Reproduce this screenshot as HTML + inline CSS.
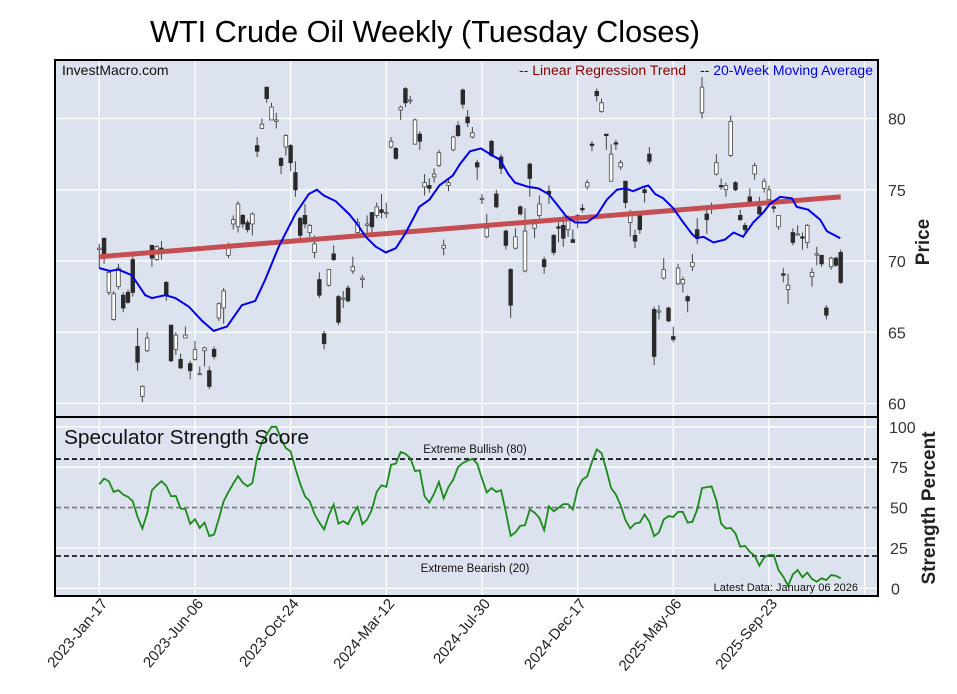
<!DOCTYPE html>
<html><head><meta charset="utf-8"><style>
body{margin:0;background:#fff;}
svg{display:block;font-family:"Liberation Sans",sans-serif;}
</style></head><body>
<svg id="chart" width="957" height="694" viewBox="0 0 957 694" xmlns="http://www.w3.org/2000/svg">
<text x="425" y="42" font-size="30.5" text-anchor="middle" fill="#000" textLength="550" lengthAdjust="spacingAndGlyphs">WTI Crude Oil Weekly (Tuesday Closes)</text>
<rect x="56" y="61" width="822" height="356" fill="#dde3ee"/>
<rect x="56" y="418" width="822" height="178" fill="#dde3ee"/>
<g id="grid"></g>
<g id="marks"></g>
<rect x="55" y="60" width="823" height="357" fill="none" stroke="#000" stroke-width="2"/>
<rect x="55" y="417" width="823" height="179" fill="none" stroke="#000" stroke-width="2"/>
<text x="62" y="75" font-size="14" fill="#111">InvestMacro.com</text>
<text x="519" y="75" font-size="13.5" fill="#8b0000" textLength="167" lengthAdjust="spacingAndGlyphs">-- Linear Regression Trend</text>
<text x="700" y="75" font-size="13.5" fill="#0000ee" textLength="173" lengthAdjust="spacingAndGlyphs">-- 20-Week Moving Average</text>
<text x="64" y="444" font-size="20.5" fill="#111" textLength="245" lengthAdjust="spacingAndGlyphs">Speculator Strength Score</text>
<text x="475" y="453" font-size="11.5" text-anchor="middle" fill="#111">Extreme Bullish (80)</text>
<text x="475" y="572" font-size="11.5" text-anchor="middle" fill="#111">Extreme Bearish (20)</text>
<text x="858" y="591" font-size="11" text-anchor="end" fill="#111">Latest Data: January 06 2026</text>
<text transform="translate(929,242) rotate(-90)" font-size="19" font-weight="bold" text-anchor="middle" fill="#222">Price</text>
<text transform="translate(935,508) rotate(-90)" font-size="19" font-weight="bold" text-anchor="middle" fill="#222">Strength Percent</text>
<g id="axes"></g>
</svg>
<script>
const priceTicks=[60,65,70,75,80];
const strengthTicks=[0,25,50,75,100];
const dateLabels=["2023-Jan-17","2023-Jun-06","2023-Oct-24","2024-Mar-12","2024-Jul-30","2024-Dec-17","2025-May-06","2025-Sep-23"];
const opens=[70.8,71.6,67.8,65.9,68.2,67.6,67.8,70.1,64.0,60.5,63.7,71.1,70.1,70.9,68.5,65.5,63.8,63.1,64.6,62.8,63.1,62.1,63.7,62.3,63.8,66.0,66.7,70.4,72.6,72.4,73.2,72.7,72.6,78.1,79.3,82.2,79.9,79.8,77.2,78.0,78.1,76.2,73.0,73.2,72.0,70.6,68.7,64.9,68.3,70.5,67.5,67.4,68.1,69.3,72.0,68.7,72.5,73.4,73.2,73.6,73.4,78.0,77.9,80.6,82.1,81.3,78.2,78.9,75.2,75.3,75.9,76.7,70.9,75.3,77.8,79.5,82.0,80.1,78.7,76.9,74.4,71.7,78.4,74.7,77.3,72.1,69.4,70.9,73.8,69.3,76.8,72.3,73.2,70.1,74.9,71.8,72.4,72.5,72.2,71.5,73.0,73.7,75.2,78.2,81.9,80.5,78.9,75.6,78.3,76.6,75.6,72.7,71.8,73.2,75.0,77.5,66.6,66.5,68.8,66.7,64.7,68.4,68.4,67.5,69.6,72.2,80.4,73.3,73.9,76.1,75.3,75.0,77.4,75.5,73.2,72.5,74.5,76.1,73.8,75.1,74.3,73.8,72.4,69.1,68.0,72.0,71.9,71.7,71.3,68.9,70.5,70.4,66.7,69.6,70.2,70.6];
const highs=[71.2,71.6,69.4,67.9,69.8,67.8,68.0,70.3,65.3,61.3,65.0,71.1,71.1,71.4,68.6,65.5,65.0,63.5,65.4,63.0,64.4,62.6,64.0,62.6,64.0,67.1,68.1,71.3,73.2,74.2,73.3,72.9,73.4,78.7,80.0,82.2,81.1,80.4,77.3,78.9,78.2,77.0,73.1,74.0,72.6,71.8,69.2,65.1,69.4,71.1,67.6,67.9,68.3,70.3,73.0,69.0,73.2,73.4,74.1,74.7,74.1,78.7,78.0,80.9,82.2,81.6,80.0,79.1,76.1,75.8,76.5,77.8,71.5,75.8,78.8,79.8,82.1,80.6,79.4,77.1,74.7,73.3,78.5,75.0,77.5,72.2,69.5,72.3,73.9,73.7,76.9,72.9,74.6,70.3,75.3,71.9,72.7,73.2,73.2,72.2,73.3,74.0,75.7,78.4,82.1,81.4,78.9,78.2,78.5,77.1,75.6,73.6,72.2,73.3,75.3,78.0,66.8,66.9,70.2,66.8,65.4,69.8,68.9,67.6,70.5,73.0,82.9,73.6,74.1,77.5,75.8,75.5,80.2,75.6,73.6,72.7,75.1,76.9,74.5,75.8,75.3,74.0,73.2,69.5,69.1,72.3,72.5,72.0,72.6,69.5,71.0,70.4,66.9,70.3,70.3,70.8];
const lows=[69.5,69.8,67.6,65.8,68.0,66.4,67.0,67.5,62.3,60.1,63.6,69.6,70.0,70.1,67.2,62.9,63.4,62.4,64.6,61.7,63.0,62.0,62.6,61.0,63.1,65.8,65.6,70.2,72.2,72.0,72.3,72.0,71.8,77.3,79.3,81.1,79.9,79.3,76.1,77.4,76.3,74.5,71.6,72.3,71.7,70.2,67.4,63.8,68.2,70.0,65.5,66.7,67.1,69.1,71.9,68.1,71.9,72.0,73.0,73.0,73.0,77.9,77.1,79.9,80.8,81.0,78.2,77.8,74.6,74.8,75.5,76.6,70.4,74.9,77.7,78.7,80.7,79.4,78.6,75.7,74.0,71.6,77.3,73.7,76.1,70.8,66.0,70.8,73.2,69.2,74.5,71.6,73.0,69.1,74.0,70.4,71.3,71.0,71.7,71.3,72.3,73.4,75.0,77.7,81.2,80.4,77.8,75.6,77.8,76.4,73.7,71.7,70.9,71.9,74.1,76.8,62.7,65.9,68.7,65.7,64.3,68.3,67.8,66.4,69.3,71.2,80.0,71.9,73.3,76.0,75.0,74.5,77.3,74.9,72.8,72.0,73.9,75.7,73.3,74.8,74.3,73.4,72.2,68.5,67.0,71.1,71.8,70.8,70.9,68.2,69.7,69.6,65.9,69.4,69.6,68.4];
const closes=[70.9,70.2,69.2,67.7,69.5,66.7,67.1,67.8,62.9,61.2,64.6,70.2,71.0,70.7,67.6,63.0,64.8,62.5,64.8,62.3,63.8,62.1,63.9,61.2,63.3,67.0,67.9,71.1,72.9,74.0,72.6,72.2,73.3,77.7,79.6,81.4,80.8,79.9,76.7,78.8,76.9,75.0,71.8,72.6,72.5,71.2,67.6,64.2,69.4,70.1,65.7,67.4,67.2,69.6,72.7,68.8,72.6,72.4,73.8,73.4,73.4,78.4,77.2,80.8,81.1,81.3,79.9,78.4,75.5,75.1,76.1,77.6,71.1,75.5,78.7,78.8,81.0,79.7,79.0,76.6,74.4,72.3,77.4,73.8,76.5,71.1,66.9,71.7,73.3,72.1,75.8,72.6,74.0,69.6,74.7,70.6,72.3,71.6,72.9,71.3,73.2,73.6,75.5,78.1,81.6,81.1,78.8,77.5,78.2,76.9,74.1,73.2,71.4,72.2,74.8,77.0,63.3,66.5,69.4,65.8,64.5,69.5,68.7,67.2,69.9,71.6,82.2,72.9,73.9,76.9,75.2,75.3,79.8,75.0,72.9,72.2,74.1,76.7,73.3,75.6,75.0,73.7,73.2,69.0,68.3,71.3,71.9,71.6,72.5,69.2,70.5,69.8,66.2,70.2,69.7,68.5];
const maIndex=[0,2.2,4,6.8,9.6,11,13.8,15.9,18.7,21.5,23.9,26.7,29.8,32.6,34.7,37.5,41,43.8,45.5,46.9,49.4,52.2,53.9,55.7,57.8,59.9,62,64.1,66.9,69,71.1,73.9,75.4,77.5,79.8,81.7,83.8,85.5,86.9,89.7,91.8,93.9,95.6,97.7,99.5,101.9,104,106.1,108.2,109.9,111.6,113.7,114.8,116.2,117.9,120,122.1,123.9,124.9,126.3,128.4,130.8,132.6,134.6,136.7,138.8,140.2,142.3,144.8,145.8,148.2,150.7,152.1,154.9];
const maValues=[69.5,69.3,69.4,69.0,67.6,67.4,67.6,67.4,66.8,65.8,65.1,65.4,66.9,67.2,68.7,71.0,73.3,74.7,75.0,74.6,74.2,73.3,72.6,71.7,71.0,70.6,70.9,72.0,73.8,74.3,75.3,76.0,76.8,77.7,77.9,77.5,77.1,76.1,75.5,75.2,75.1,74.7,74.0,73.1,72.7,72.7,73.2,74.3,75.0,75.1,74.9,75.2,75.3,74.7,74.4,73.7,72.7,71.9,71.6,71.7,71.3,71.5,72.0,71.7,72.7,73.4,74.0,74.5,74.4,73.8,73.6,72.9,72.1,71.6];
const trendStart=70.3;
const trendEnd=74.5;
const strength=[64.4,67.9,66.3,59.7,60.7,58.0,56.6,53.9,44.2,37.0,46.3,60.7,63.8,66.3,63.4,57.0,57.2,49.4,49.0,39.9,42.8,37.4,40.7,32.3,33.3,43.2,53.9,59.7,64.8,69.5,65.4,63.2,65.2,81.3,90.5,95.1,100,100,92.6,86.8,84.8,74.1,64.8,57.0,53.9,45.9,40.7,36.4,45.3,51.9,40.1,41.6,39.7,45.7,50.4,39.7,42.6,48.8,59.7,63.8,62.8,76.5,77.2,84.4,83.3,80.7,72.6,73.0,57.0,53.1,58.6,65.8,55.6,62.8,67.3,75.1,77.6,79.0,80.2,77.2,67.9,59.3,62.1,59.7,60.7,47.3,32.5,34.6,38.7,39.1,48.8,46.9,43.6,36.0,50.8,47.7,49.8,52.1,52.1,48.8,61.7,67.3,69.3,78.2,86.0,83.7,73.5,62.1,58.0,51.4,42.2,37.0,40.1,40.7,45.7,41.2,32.3,34.6,42.6,44.7,44.2,47.3,47.3,40.7,41.2,48.8,62.1,62.6,63.2,54.5,40.1,37.0,37.4,34.0,25.7,26.3,22.6,20.2,14.0,19.1,20.6,20.6,11.3,7.2,1.6,8.6,11.3,6.8,9.7,5.8,4.1,6.2,5.1,8.2,7.8,6.2];

const NS="http://www.w3.org/2000/svg";
const N=opens.length;
const X0=99.3, X1=840.7;
function xScale(i){return X0+(X1-X0)*i/(N-1);}
function yPrice(p){return 261-(p-70)*14.25;}
function yStr(v){return 588.3-v*1.615;}
function mk(tag,attrs,parent){const e=document.createElementNS(NS,tag);for(const k in attrs)e.setAttribute(k,attrs[k]);parent.appendChild(e);return e;}
const grid=document.getElementById('grid'),marks=document.getElementById('marks'),axes=document.getElementById('axes');
for(let k=0;k<=8;k++){const x=X0+k*20*(X1-X0)/(N-1);
 const g1=mk('line',{x1:x,x2:x,y1:61,y2:416,stroke:'#fff','stroke-width':1.3},grid);
 
 
 const g2=mk('line',{x1:x,x2:x,y1:418,y2:596,stroke:'#fff','stroke-width':1.3},grid);
 
 
 if(k<dateLabels.length){const t=mk('text',{transform:`translate(${x+9},604) rotate(-50)`,'font-size':15,'text-anchor':'end',fill:'#222'},axes);t.textContent=dateLabels[k];
 
 }
}
priceTicks.forEach(p=>{const y=yPrice(p);
 const l=mk('line',{x1:56,x2:877,y1:y,y2:y,stroke:'#fff','stroke-width':1.3},grid);
 
 
 const t=mk('text',{x:888,y:y+6,'font-size':16,fill:'#333'},axes);t.textContent=p;
 
 
});
strengthTicks.forEach(v=>{const y=yStr(v);
 if(v!==50){const l=mk('line',{x1:56,x2:877,y1:y,y2:y,stroke:'#fff','stroke-width':1.3},grid);
 
 }
 const t=mk('text',{x:v===100?889:(v===0?891:890),y:y+6,'font-size':16,fill:'#333'},axes);t.textContent=v;
 
 
});
const mid=mk('line',{x1:56,x2:877,y1:yStr(50),y2:yStr(50),stroke:'#777','stroke-width':1.6,'stroke-dasharray':'5,3'},grid);


[80,20].forEach(v=>{const l=mk('line',{x1:56,x2:877,y1:yStr(v),y2:yStr(v),stroke:'#000','stroke-width':1.6,'stroke-dasharray':'5,3'},grid);
 
 });
for(let i=0;i<N;i++){const x=xScale(i);const o=opens[i],c=closes[i];
 const g=mk('g',{},marks);
 
 
 mk('line',{x1:x,x2:x,y1:yPrice(highs[i]),y2:yPrice(lows[i]),stroke:'#444','stroke-width':1},g);
 const top=yPrice(Math.max(o,c)),bot=yPrice(Math.min(o,c));
 const up=c>=o;
 mk('rect',{x:x-1.8,y:top,width:3.6,height:Math.max(bot-top,1.2),fill:up?'#fff':'#2a2a2a',stroke:up?'#444':'#2a2a2a','stroke-width':0.8},g);
}
const tr=mk('line',{x1:xScale(0),x2:xScale(N-1),y1:yPrice(trendStart),y2:yPrice(trendEnd),stroke:'#c44e52','stroke-width':5},marks);


const ma=mk('polyline',{points:maIndex.map((k,j)=>xScale(k)+','+yPrice(maValues[j])).join(' '),fill:'none',stroke:'#0000ee','stroke-width':2},marks);


const st=mk('polyline',{points:strength.map((v,i)=>xScale(i)+','+yStr(v)).join(' '),fill:'none',stroke:'#1a8a1a','stroke-width':1.8},marks);


</script>
</body></html>
